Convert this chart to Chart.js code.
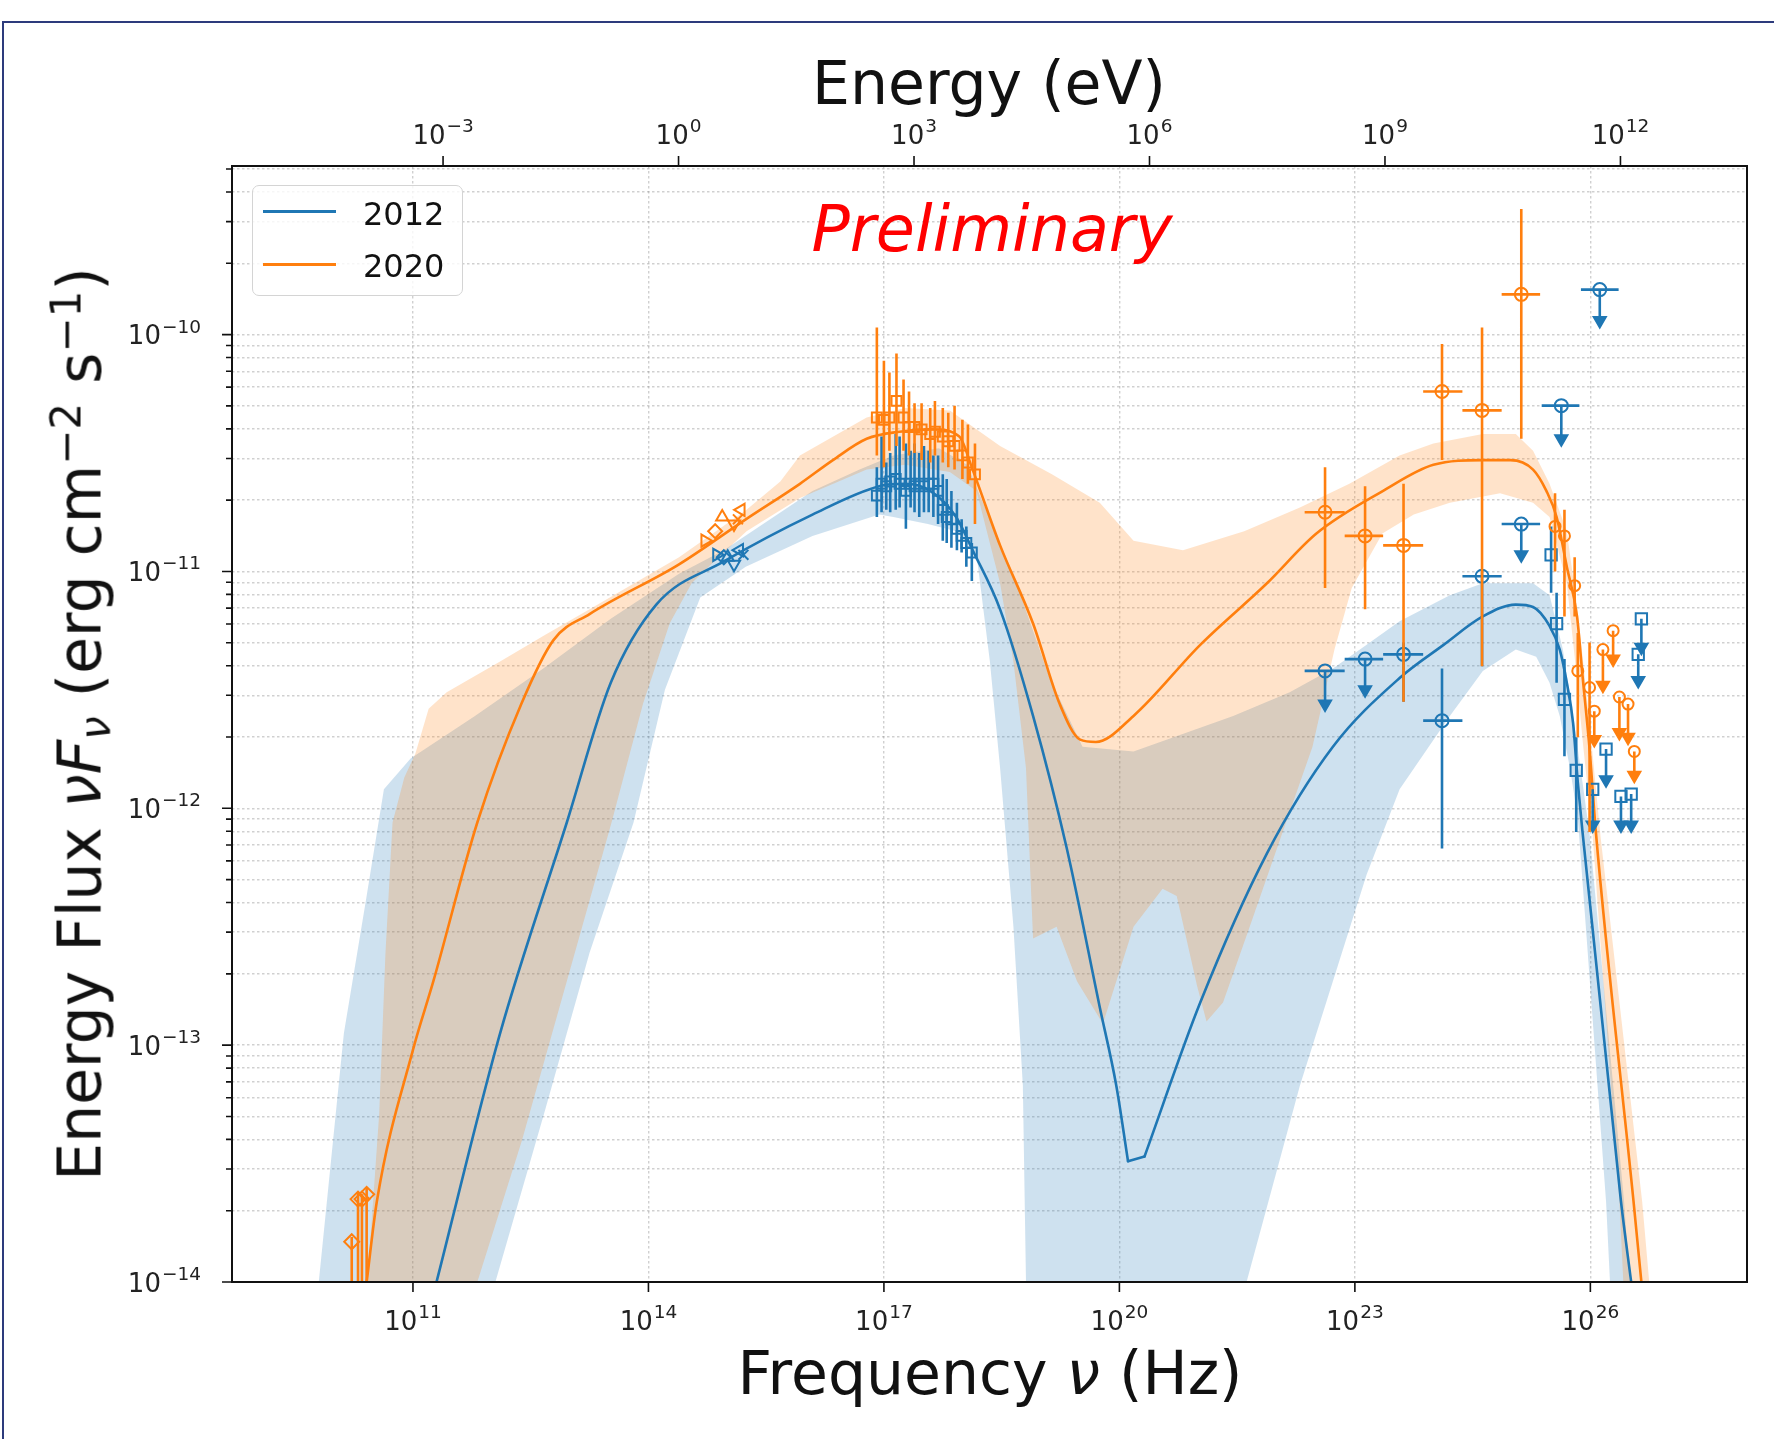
<!DOCTYPE html>
<html>
<head>
<meta charset="utf-8">
<title>SED 2012 / 2020</title>
<script src="https://cdn.jsdelivr.net/npm/chart.js"></script>
<style>
  html, body { margin: 0; padding: 0; background: #fff; }
  #wrap { position: relative; width: 1774px; height: 1439px; overflow: hidden; font-family: 'DejaVu Sans', sans-serif; color: #111; }
  #slide { position: absolute; left: 2px; top: 21px; width: 1800px; height: 1500px; border-top: 2.5px solid #2d3b7c; border-left: 2.5px solid #2d3b7c; }
  canvas { position: absolute; left: 0; top: 0; }
  .ttl { position: absolute; font-size: 60px; line-height: 58px; white-space: nowrap; }
  .sup { font-size: 0.7em; position: relative; top: -0.48em; }
  .sub { font-size: 0.7em; position: relative; top: 0.22em; }
  #topTitle { left: 989px; top: 54px; transform: translateX(-50%); }
  #botTitle { left: 990px; top: 1344px; transform: translateX(-50%); }
  #yTitle { left: 83px; top: 724px; transform: translate(-50%, -50%) rotate(-90deg); }
  #prelim { position: absolute; left: 992px; top: 197px; transform: translateX(-50%); font-size: 63.5px; line-height: 64px; font-style: italic; color: #f00; white-space: nowrap; }
  #legBox { position: absolute; left: 252px; top: 185px; width: 209px; height: 109px; border: 1.5px solid #d4d4d4; border-radius: 7px; background: rgba(255,255,255,0.8); }
  .legLine { position: absolute; left: 263px; width: 73px; height: 2.6px; }
  .legTxt { position: absolute; left: 363px; font-size: 32px; line-height: 32px; }
</style>
</head>
<body>
<div id="wrap">
  <div id="slide"></div>
  <canvas id="sed" width="1774" height="1439"></canvas>
  <div class="ttl" id="topTitle">Energy (eV)</div>
  <div class="ttl" id="botTitle">Frequency <i>ν</i> (Hz)</div>
  <div class="ttl" id="yTitle">Energy Flux <i>νF</i><span class="sub"><i>ν</i></span> (erg cm<span class="sup">−2</span> s<span class="sup">−1</span>)</div>
  <div id="prelim">Preliminary</div>
  <div id="legBox"></div>
  <div class="legLine" style="top:210px; background:#1f77b4"></div>
  <div class="legTxt" style="top:198px">2012</div>
  <div class="legLine" style="top:263px; background:#ff7f0e"></div>
  <div class="legTxt" style="top:250px">2020</div>
</div>
<script>
// axis ranges and ticks
var NU_MIN = 4.95e8, NU_MAX = 9.9e27;
var FLUX_MIN = 1e-14, FLUX_MAX = 5.15e-10;
var H_EV = 4.135667e-15; // eV s, nu -> E for the top axis
var NU_TICKS = [1e11, 1e14, 1e17, 1e20, 1e23, 1e26];
var EV_TICKS = [1e-3, 1e0, 1e3, 1e6, 1e9, 1e12];
var FLUX_TICKS = [1e-14, 1e-13, 1e-12, 1e-11, 1e-10];

// everything below is log10(nu / Hz), log10(nuFnu / erg cm-2 s-1)

// model curves
var MODEL_2012 = [[11.30,-14.00],[12.11,-12.95],[12.96,-12.06],[13.52,-11.47],[14.10,-11.14],[14.95,-10.96],[16.09,-10.76],[16.94,-10.64],[17.27,-10.63],[17.59,-10.66],[17.92,-10.77],[18.13,-10.91],[18.48,-11.16],[18.90,-11.61],[19.33,-12.17],[19.75,-12.84],[19.96,-13.17],[20.11,-13.49],[20.32,-13.47],[21.03,-12.82],[21.88,-12.19],[22.72,-11.74],[23.57,-11.45],[24.13,-11.31],[24.63,-11.19],[25.05,-11.14],[25.27,-11.15],[25.48,-11.23],[25.61,-11.33],[25.70,-11.47],[25.78,-11.64],[25.84,-11.89],[25.90,-12.10],[26.39,-13.66],[26.52,-14.00]];
var MODEL_2012_DIP = 17; // index where the sharp dip starts
var MODEL_2020 = [[10.41,-14.00],[10.54,-13.66],[11.00,-13.02],[11.26,-12.73],[11.82,-12.06],[12.38,-11.56],[12.79,-11.29],[13.25,-11.18],[14.39,-10.97],[15.24,-10.78],[15.93,-10.63],[16.35,-10.53],[16.78,-10.44],[17.20,-10.41],[17.63,-10.40],[17.96,-10.43],[18.13,-10.57],[18.48,-10.89],[18.90,-11.22],[19.24,-11.56],[19.50,-11.71],[19.70,-11.72],[20.18,-11.61],[21.03,-11.31],[21.88,-11.05],[22.51,-10.84],[23.36,-10.66],[24.00,-10.55],[24.63,-10.53],[24.98,-10.53],[25.27,-10.57],[25.44,-10.66],[25.57,-10.77],[25.70,-10.98],[25.83,-11.19],[25.90,-11.44],[25.99,-11.75],[26.07,-12.10],[26.55,-13.66],[26.65,-14.00]];

// uncertainty bands, outline; the -16/-17 points close the shape below the axis
var BAND_2012 = [[9.80,-16],[9.80,-14.00],[10.12,-12.95],[10.40,-12.39],[10.63,-11.92],[10.97,-11.79],[11.79,-11.61],[12.66,-11.41],[13.52,-11.20],[14.39,-11.01],[14.96,-10.91],[16.09,-10.66],[16.69,-10.57],[17.12,-10.51],[17.70,-10.48],[18.06,-10.55],[18.35,-10.78],[18.69,-11.05],[19.11,-11.45],[19.53,-11.74],[20.18,-11.76],[21.45,-11.61],[22.17,-11.51],[22.72,-11.41],[23.15,-11.31],[23.57,-11.21],[24.21,-11.10],[24.63,-11.05],[25.27,-11.05],[25.48,-11.10],[25.65,-11.33],[25.78,-11.61],[25.90,-11.89],[25.99,-12.11],[26.43,-13.66],[26.50,-14.00],
  [26.25,-14.00],[26.20,-13.66],[25.84,-12.04],[25.74,-11.83],[25.61,-11.61],[25.48,-11.47],[25.31,-11.36],[25.05,-11.33],[24.63,-11.42],[24.21,-11.61],[23.57,-11.92],[23.15,-12.28],[22.72,-12.73],[22.30,-13.17],[21.62,-14.00],[21.62,-16],[18.81,-16],[18.81,-14.00],[18.77,-13.17],[18.65,-12.50],[18.48,-11.83],[18.35,-11.38],[18.18,-10.93],[17.92,-10.83],[17.56,-10.80],[17.12,-10.77],[16.94,-10.76],[16.09,-10.85],[15.24,-10.98],[14.66,-11.11],[14.21,-11.50],[13.81,-12.06],[13.25,-12.61],[12.67,-13.29],[12.05,-14.00],[12.05,-17],[28.50,-17]];
var BAND_2020 = [[10.42,-16],[10.42,-14.00],[10.57,-13.29],[10.65,-12.61],[10.74,-12.06],[10.89,-11.87],[11.03,-11.77],[11.20,-11.58],[11.43,-11.51],[12.11,-11.38],[12.67,-11.27],[13.25,-11.16],[14.39,-10.94],[15.25,-10.74],[15.68,-10.62],[15.93,-10.51],[16.78,-10.35],[17.27,-10.31],[17.84,-10.32],[18.48,-10.47],[19.14,-10.59],[19.75,-10.71],[20.18,-10.87],[20.81,-10.91],[21.59,-10.83],[22.30,-10.73],[22.93,-10.63],[23.57,-10.51],[24.00,-10.46],[24.63,-10.42],[25.05,-10.42],[25.27,-10.49],[25.48,-10.63],[25.70,-10.83],[25.84,-11.17],[25.99,-11.64],[26.13,-12.12],[26.66,-13.66],[26.75,-14.00],
  [26.42,-14.00],[26.37,-13.66],[26.03,-12.12],[25.91,-11.74],[25.80,-11.36],[25.70,-11.05],[25.48,-10.77],[25.27,-10.71],[24.85,-10.67],[24.21,-10.71],[23.75,-10.76],[23.35,-10.84],[22.96,-11.07],[22.74,-11.33],[22.46,-11.74],[22.08,-12.10],[21.66,-12.50],[21.32,-12.82],[21.11,-12.90],[20.99,-12.75],[20.73,-12.37],[20.55,-12.34],[20.18,-12.50],[19.79,-12.91],[19.46,-12.73],[19.20,-12.50],[18.90,-12.55],[18.81,-11.83],[18.65,-11.38],[18.48,-11.05],[18.18,-10.66],[17.84,-10.58],[17.27,-10.55],[16.78,-10.57],[15.93,-10.69],[15.25,-10.83],[14.83,-10.96],[14.55,-11.05],[14.27,-11.22],[13.93,-11.56],[13.53,-12.06],[12.96,-12.73],[12.39,-13.40],[11.82,-14.00],[11.82,-17],[28.50,-17]];

// radio 2020
var RADIO20_NU = [10.22, 10.30, 10.35, 10.41];
var RADIO20_F = [-13.83, -13.65, -13.65, -13.63];
var RADIO20_HI = [-13.81, -13.62, -13.63, -13.60];
var RADIO20_LO = [-14.5, -14.5, -14.5, -14.5];

// optical / UV
var UVOT20_NU = [14.72, 14.85, 14.94, 15.09, 15.14, 15.18];
var UVOT20_F = [-10.87, -10.83, -10.77, -10.80, -10.78, -10.74];
var UVOT12_NU = [14.87, 14.96, 15.01, 15.09, 15.16, 15.21];
var UVOT12_F = [-10.93, -10.94, -10.94, -10.97, -10.91, -10.93];

// X-rays
var XRAY12_NU = [16.91, 16.97, 17.03, 17.08, 17.15, 17.20, 17.28, 17.34, 17.39, 17.45, 17.51, 17.57, 17.63, 17.69, 17.75, 17.80, 17.86, 17.93, 17.99, 18.05, 18.12];
var XRAY12_F = [-10.68, -10.63, -10.64, -10.62, -10.61, -10.63, -10.66, -10.63, -10.64, -10.63, -10.64, -10.63, -10.63, -10.66, -10.74, -10.77, -10.78, -10.82, -10.85, -10.88, -10.92];
var XRAY12_HI = [-10.56, -10.43, -10.54, -10.50, -10.42, -10.43, -10.46, -10.49, -10.46, -10.50, -10.47, -10.49, -10.51, -10.51, -10.59, -10.61, -10.66, -10.71, -10.78, -10.81, -10.88];
var XRAY12_LO = [-10.77, -10.75, -10.74, -10.75, -10.74, -10.73, -10.82, -10.73, -10.75, -10.77, -10.75, -10.75, -10.77, -10.80, -10.87, -10.88, -10.90, -10.91, -10.92, -10.98, -11.04];
var XRAY20_NU = [16.91, 17.00, 17.07, 17.16, 17.25, 17.32, 17.39, 17.48, 17.59, 17.65, 17.75, 17.82, 17.90, 18.00, 18.07, 18.16];
var XRAY20_F = [-10.35, -10.36, -10.35, -10.28, -10.35, -10.39, -10.39, -10.40, -10.42, -10.41, -10.43, -10.45, -10.47, -10.51, -10.54, -10.59];
var XRAY20_HI = [-9.97, -10.11, -10.16, -10.08, -10.19, -10.24, -10.29, -10.29, -10.31, -10.28, -10.31, -10.33, -10.30, -10.36, -10.38, -10.46];
var XRAY20_LO = [-10.51, -10.56, -10.49, -10.47, -10.49, -10.51, -10.50, -10.53, -10.54, -10.51, -10.54, -10.56, -10.57, -10.61, -10.63, -10.80];

// HE gamma rays
var GEV20_NU = [22.62, 23.13, 23.62, 24.11, 24.62, 25.12];
var GEV20_NU_LO = [22.36, 22.87, 23.36, 23.87, 24.37, 24.87];
var GEV20_NU_HI = [22.87, 23.36, 23.87, 24.37, 24.87, 25.36];
var GEV20_F = [-10.75, -10.85, -10.89, -10.24, -10.32, -9.83];
var GEV20_HI = [-10.56, -10.64, -10.63, -10.04, -9.97, -9.47];
var GEV20_LO = [-11.07, -11.16, -11.55, -10.53, -11.40, -10.44];
var GEV12_NU = [23.62, 24.11, 24.62];
var GEV12_NU_LO = [23.36, 23.87, 24.37];
var GEV12_NU_HI = [23.87, 24.37, 24.87];
var GEV12_F = [-11.35, -11.63, -11.02];
var GEV12_HI = [-11.30, -11.41, -10.99];
var GEV12_LO = [-11.55, -12.17, -11.40];
var GEV12_UL_NU = [22.62, 23.13, 25.12, 25.63, 26.12];
var GEV12_UL_NU_LO = [22.36, 22.87, 24.87, 25.38, 25.88];
var GEV12_UL_NU_HI = [22.87, 23.36, 25.36, 25.86, 26.36];
var GEV12_UL_F = [-11.42, -11.37, -10.80, -10.30, -9.81];
var GEV12_UL_ARROW = [-11.56, -11.50, -10.93, -10.44, -9.94];

// VHE gamma rays
var VHE20_NU = [25.55, 25.67, 25.80, 25.84, 25.99];
var VHE20_F = [-10.81, -10.85, -11.06, -11.42, -11.49];
var VHE20_HI = [-10.67, -10.74, -10.94, -11.26, -11.30];
var VHE20_LO = [-11.00, -11.19, -11.19, -11.70, -12.10];
var VHE20_UL_NU = [26.05, 26.16, 26.29, 26.37, 26.48, 26.56];
var VHE20_UL_F = [-11.59, -11.33, -11.25, -11.53, -11.56, -11.76];
var VHE20_UL_ARROW = [-11.71, -11.48, -11.37, -11.68, -11.70, -11.86];
var VHE12_NU = [25.50, 25.57, 25.67, 25.82];
var VHE12_F = [-10.93, -11.22, -11.54, -11.84];
var VHE12_HI = [-10.81, -11.09, -11.37, -11.70];
var VHE12_LO = [-11.09, -11.47, -11.78, -12.10];
var VHE12_UL_NU = [26.03, 26.20, 26.39, 26.52, 26.61, 26.65];
var VHE12_UL_F = [-11.92, -11.75, -11.95, -11.94, -11.35, -11.20];
var VHE12_UL_ARROW = [-12.07, -11.88, -12.07, -12.07, -11.46, -11.32];

var BLUE = '#1f77b4', ORANGE = '#ff7f0e';
var NONE = 'rgba(0,0,0,0)';

function p10(v) { return Math.pow(10, v); }
function fromPairs(pairs) { return pairs.map(function (p) { return {x: p10(p[0]), y: p10(p[1])}; }); }
function pts(nu, f) { return nu.map(function (v, i) { return {x: p10(v), y: p10(f[i])}; }); }
function vSeg(nu, a, b) {
  var out = [];
  nu.forEach(function (v, i) {
    out.push({x: p10(v), y: p10(a[i])}, {x: p10(v), y: p10(b[i])}, {x: p10(v), y: null});
  });
  return out;
}
function hSeg(lo, hi, f) {
  var out = [];
  f.forEach(function (v, i) {
    out.push({x: p10(lo[i]), y: p10(v)}, {x: p10(hi[i]), y: p10(v)}, {x: p10(hi[i]), y: null});
  });
  return out;
}

function band(pairs, color, order) {
  return {type: 'line', data: fromPairs(pairs), fill: 'shape', backgroundColor: color,
    borderWidth: 0, borderColor: NONE, pointRadius: 0, order: order};
}
function curve(data, color, width, order) {
  return {type: 'line', data: data, borderColor: color, borderWidth: width, pointRadius: 0,
    fill: false, order: order, borderCapStyle: 'butt'};
}
function model(pairs, color, order, smooth) {
  var ds = curve(fromPairs(pairs), color, 2.6, order);
  ds.borderCapStyle = 'round';
  if (smooth) ds.cubicInterpolationMode = 'monotone';
  return ds;
}
function marks(data, color, style, radius, order, rot, filled) {
  return {type: 'line', data: data, showLine: false, pointStyle: style, pointRadius: radius,
    pointRotation: rot || 0, pointBorderColor: color, pointBackgroundColor: filled ? color : NONE,
    pointBorderWidth: 2, order: order};
}

// "10" plus a raised exponent, like matplotlib's mathtext tick labels
var BASE_FONT = "26px 'DejaVu Sans'", EXP_FONT = "18.5px 'DejaVu Sans'";
function drawPow(ctx, v, x, y, align) {
  var e = String(Math.round(Math.log10(v))).replace('-', '\u2212');
  ctx.font = BASE_FONT;
  var wb = ctx.measureText('10').width;
  ctx.font = EXP_FONT;
  var we = ctx.measureText(e).width;
  var x0 = align === 'right' ? x - wb - we - 1 : x - (wb + we + 1) / 2;
  ctx.font = BASE_FONT;
  ctx.fillText('10', x0, y);
  ctx.font = EXP_FONT;
  ctx.fillText(e, x0 + wb + 1, y - 11.5);
}

var gridStyle = {color: 'rgba(150,150,150,0.45)', lineWidth: 1.4, tickLength: 10, tickColor: NONE};

// frame, tick marks and tick labels, drawn over the data like matplotlib spines
var framePlugin = {
  id: 'frame',
  afterDatasetsDraw: function (chart) {
    var ctx = chart.ctx, a = chart.chartArea, s = chart.scales;
    ctx.save();
    ctx.strokeStyle = '#111';
    ctx.lineWidth = 1.6;
    ctx.beginPath();
    s.y.ticks.forEach(function (t) {
      var py = s.y.getPixelForValue(t.value);
      ctx.moveTo(a.left - (t.major ? 10 : 6), py);
      ctx.lineTo(a.left, py);
    });
    s.x.ticks.forEach(function (t) {
      var px = s.x.getPixelForValue(t.value);
      ctx.moveTo(px, a.bottom);
      ctx.lineTo(px, a.bottom + 10);
    });
    s.x2.ticks.forEach(function (t) {
      var px = s.x2.getPixelForValue(t.value);
      ctx.moveTo(px, a.top);
      ctx.lineTo(px, a.top - 10);
    });
    ctx.stroke();
    ctx.lineWidth = 2;
    ctx.strokeRect(a.left, a.top, a.right - a.left, a.bottom - a.top);

    ctx.fillStyle = '#222';
    ctx.textAlign = 'left';
    ctx.textBaseline = 'alphabetic';
    s.y.ticks.forEach(function (t) {
      if (t.major) drawPow(ctx, t.value, a.left - 31, s.y.getPixelForValue(t.value) + 9.5, 'right');
    });
    s.x.ticks.forEach(function (t) {
      drawPow(ctx, t.value, s.x.getPixelForValue(t.value), a.bottom + 47.5, 'center');
    });
    s.x2.ticks.forEach(function (t) {
      drawPow(ctx, t.value, s.x2.getPixelForValue(t.value), a.top - 22.3, 'center');
    });
    ctx.restore();
  }
};

Chart.defaults.font.family = "'DejaVu Sans', sans-serif";

var datasets = [
  band(BAND_2012, 'rgba(31,119,180,0.22)', 100),
  band(BAND_2020, 'rgba(255,127,14,0.22)', 99),
  // the 2012 curve has a sharp dip, so it is smoothed on either side of it only
  model(MODEL_2012.slice(0, MODEL_2012_DIP + 1), BLUE, 50, true),
  model(MODEL_2012.slice(MODEL_2012_DIP, MODEL_2012_DIP + 2), BLUE, 50, false),
  model(MODEL_2012.slice(MODEL_2012_DIP + 1), BLUE, 50, true),
  model(MODEL_2020, ORANGE, 49, true),

  // 2012 data
  curve(vSeg(XRAY12_NU, XRAY12_LO, XRAY12_HI), BLUE, 2.6, 30),
  marks(pts(XRAY12_NU, XRAY12_F), BLUE, 'rect', 7, 29),
  marks(pts(UVOT12_NU, UVOT12_F), BLUE, ['triangle', 'rectRot', 'triangle', 'triangle', 'triangle', 'crossRot'], 7, 29,
    [90, 0, 0, 180, 270, 0]),
  curve(vSeg(GEV12_NU, GEV12_LO, GEV12_HI), BLUE, 2.6, 30),
  curve(hSeg(GEV12_NU_LO, GEV12_NU_HI, GEV12_F), BLUE, 2.6, 30),
  marks(pts(GEV12_NU, GEV12_F), BLUE, 'circle', 6.5, 29),
  curve(vSeg(GEV12_UL_NU, GEV12_UL_ARROW, GEV12_UL_F), BLUE, 2.6, 30),
  curve(hSeg(GEV12_UL_NU_LO, GEV12_UL_NU_HI, GEV12_UL_F), BLUE, 2.6, 30),
  marks(pts(GEV12_UL_NU, GEV12_UL_F), BLUE, 'circle', 6.5, 29),
  marks(pts(GEV12_UL_NU, GEV12_UL_ARROW), BLUE, 'triangle', 7, 29, 180, true),
  curve(vSeg(VHE12_NU, VHE12_LO, VHE12_HI), BLUE, 2.6, 30),
  marks(pts(VHE12_NU, VHE12_F), BLUE, 'rect', 8, 29),
  curve(vSeg(VHE12_UL_NU, VHE12_UL_ARROW, VHE12_UL_F), BLUE, 2.6, 30),
  marks(pts(VHE12_UL_NU, VHE12_UL_F), BLUE, 'rect', 8, 29),
  marks(pts(VHE12_UL_NU, VHE12_UL_ARROW), BLUE, 'triangle', 7, 29, 180, true),

  // 2020 data
  curve(vSeg(RADIO20_NU, RADIO20_LO, RADIO20_HI), ORANGE, 2.6, 20),
  marks(pts(RADIO20_NU, RADIO20_F), ORANGE, 'rectRot', 7.5, 19),
  marks(pts(UVOT20_NU, UVOT20_F), ORANGE, ['triangle', 'rectRot', 'triangle', 'triangle', 'crossRot', 'triangle'], 7, 19,
    [90, 0, 0, 180, 0, 270]),
  curve(vSeg(XRAY20_NU, XRAY20_LO, XRAY20_HI), ORANGE, 2.6, 20),
  marks(pts(XRAY20_NU, XRAY20_F), ORANGE, 'rect', 7, 19),
  curve(vSeg(GEV20_NU, GEV20_LO, GEV20_HI), ORANGE, 2.6, 20),
  curve(hSeg(GEV20_NU_LO, GEV20_NU_HI, GEV20_F), ORANGE, 2.6, 20),
  marks(pts(GEV20_NU, GEV20_F), ORANGE, 'circle', 6.5, 19),
  curve(vSeg(VHE20_NU, VHE20_LO, VHE20_HI), ORANGE, 2.6, 20),
  marks(pts(VHE20_NU, VHE20_F), ORANGE, 'circle', 5.5, 19),
  curve(vSeg(VHE20_UL_NU, VHE20_UL_ARROW, VHE20_UL_F), ORANGE, 2.6, 20),
  marks(pts(VHE20_UL_NU, VHE20_UL_F), ORANGE, 'circle', 5.5, 19),
  marks(pts(VHE20_UL_NU, VHE20_UL_ARROW), ORANGE, 'triangle', 7, 19, 180, true)
];

new Chart(document.getElementById('sed'), {
  type: 'line',
  data: {datasets: datasets},
  plugins: [framePlugin],
  options: {
    responsive: false,
    animation: false,
    devicePixelRatio: 1,
    events: [],
    layout: {padding: {left: 0, top: 0, right: 27, bottom: 0}},
    plugins: {legend: {display: false}, tooltip: {enabled: false}},
    scales: {
      x: {
        type: 'logarithmic', position: 'bottom', min: NU_MIN, max: NU_MAX, bounds: 'data',
        afterBuildTicks: function (s) { s.ticks = NU_TICKS.map(function (v) { return {value: v, major: true}; }); },
        afterFit: function (s) { s.height = 157; },
        ticks: {display: false, autoSkip: false},
        grid: gridStyle,
        border: {display: false, dash: [2.5, 2.5]}
      },
      x2: {
        type: 'logarithmic', position: 'top', min: NU_MIN * H_EV, max: NU_MAX * H_EV, bounds: 'data',
        afterBuildTicks: function (s) { s.ticks = EV_TICKS.map(function (v) { return {value: v, major: true}; }); },
        afterFit: function (s) { s.height = 166; },
        ticks: {display: false, autoSkip: false},
        grid: {drawOnChartArea: false, tickLength: 10, tickColor: NONE},
        border: {display: false}
      },
      y: {
        type: 'logarithmic', position: 'left', min: FLUX_MIN, max: FLUX_MAX, bounds: 'data',
        afterBuildTicks: function (s) {
          var out = [];
          FLUX_TICKS.forEach(function (base) {
            for (var m = 1; m <= 9; m++) {
              if (base * m <= FLUX_MAX) out.push({value: base * m, major: m === 1});
            }
          });
          s.ticks = out;
        },
        afterFit: function (s) { s.width = 232; },
        ticks: {display: false, autoSkip: false},
        grid: gridStyle,
        border: {display: false, dash: [2.5, 2.5]}
      }
    }
  }
});
</script>
</body>
</html>
